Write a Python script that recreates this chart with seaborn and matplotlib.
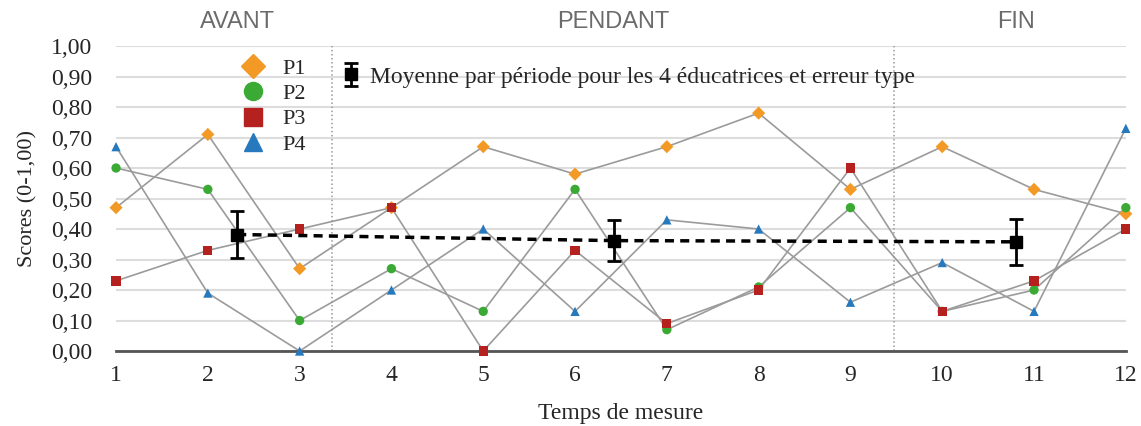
import matplotlib
matplotlib.use("Agg")
import matplotlib.pyplot as plt
from matplotlib.lines import Line2D
from matplotlib.ticker import FuncFormatter, MultipleLocator
import pandas as pd
import seaborn as sns

# scores par temps de mesure
temps = list(range(1, 13))
p1 = [0.47, 0.71, 0.27, 0.47, 0.67, 0.58, 0.67, 0.78, 0.53, 0.67, 0.53, 0.45]
p2 = [0.60, 0.53, 0.10, 0.27, 0.13, 0.53, 0.07, 0.21, 0.47, 0.13, 0.20, 0.47]
p3 = [0.23, 0.33, 0.40, 0.47, 0.00, 0.33, 0.09, 0.20, 0.60, 0.13, 0.23, 0.40]
p4 = [0.67, 0.19, 0.00, 0.20, 0.40, 0.13, 0.43, 0.40, 0.16, 0.29, 0.13, 0.73]
series = ["P1", "P2", "P3", "P4"]

# moyennes par période (4 éducatrices) et erreur type
periodes = ["AVANT", "PENDANT", "FIN"]
periode_centre = [2.32, 6.42, 10.8]
moyennes = [0.382, 0.362, 0.358]
erreurs = [0.076, 0.066, 0.076]
separations = [3.35, 9.47]

couleurs = {"P1": "#F39A26", "P2": "#3AAA35", "P3": "#B5211E", "P4": "#2779BD"}
marqueurs = {"P1": "D", "P2": "o", "P3": "s", "P4": "^"}

df = pd.DataFrame({
    "temps": temps * 4,
    "score": p1 + p2 + p3 + p4,
    "serie": [s for s in series for _ in temps],
})
moy = pd.DataFrame({"x": periode_centre, "y": moyennes, "err": erreurs})

sns.set_theme(style="white")
plt.rcParams["font.family"] = ["Liberation Serif", "DejaVu Serif"]

fig = plt.figure(figsize=(11.41, 4.26), dpi=100)
ax = fig.add_axes([0.1017, 0.176, 0.885, 0.716])

for s in series:
    sns.lineplot(data=df[df.serie == s], x="temps", y="score", color="#9b9b9b",
                 lw=1.2, ax=ax, legend=False, zorder=2)
sns.scatterplot(data=df, x="temps", y="score", hue="serie", style="serie",
                palette=couleurs, markers=marqueurs, s=45, linewidth=0,
                ax=ax, legend=False, zorder=3, clip_on=False)

sns.lineplot(data=moy, x="x", y="y", color="black", lw=2.5, ls=(0, (2.6, 1.8)),
             ax=ax, legend=False, zorder=4)
eb = ax.errorbar(moy.x, moy.y, yerr=moy.err, fmt="s", color="black", ms=9,
                 elinewidth=2, capsize=5, capthick=2, zorder=5)

ax.vlines(separations, 0, 1, colors="#9a9a9a", linestyles=":", lw=1.1, zorder=1)
for nom, xc in zip(periodes, periode_centre):
    ax.text(xc, 1.08, nom, ha="center", va="center", fontsize=17,
            color="#6b6b6b", family="Liberation Sans", clip_on=False)

ax.set_xlim(1, 12)
ax.set_ylim(0, 1)
ax.set_xticks(temps)
ax.yaxis.set_major_locator(MultipleLocator(0.1))
ax.yaxis.set_major_formatter(FuncFormatter(lambda v, _: f"{v:.2f}".replace(".", ",")))
ax.yaxis.grid(True, color="#dddddd", lw=1.5)
ax.xaxis.grid(False)
ax.set_axisbelow(True)
for side in ["left", "right", "top"]:
    ax.spines[side].set_visible(False)
ax.spines["bottom"].set_color("#555555")
ax.spines["bottom"].set_linewidth(2)
ax.tick_params(axis="y", length=0, pad=17, labelsize=17)
ax.tick_params(axis="x", length=0, pad=10, labelsize=17)
ax.set_xlabel("Temps de mesure", fontsize=17, labelpad=12)
ax.set_ylabel("Scores (0-1,00)", fontsize=16, labelpad=10)

poignees = [Line2D([], [], ls="none", marker=marqueurs[s], color=couleurs[s],
                   ms=13 if s != "P1" else 12) for s in series]
leg1 = ax.legend(poignees, series, loc="upper left", bbox_to_anchor=(0.11, 0.99),
                 frameon=False, fontsize=16, handletextpad=0.6, labelspacing=0.22,
                 handlelength=1.5, borderaxespad=0)
ax.add_artist(leg1)
ax.legend([eb], ["Moyenne par période pour les 4 éducatrices et erreur type"],
          loc="upper left", bbox_to_anchor=(0.212, 0.965), frameon=False,
          fontsize=17, handletextpad=0.3, handlelength=1.0, borderaxespad=0)

fig.savefig("out.png", dpi=100)
